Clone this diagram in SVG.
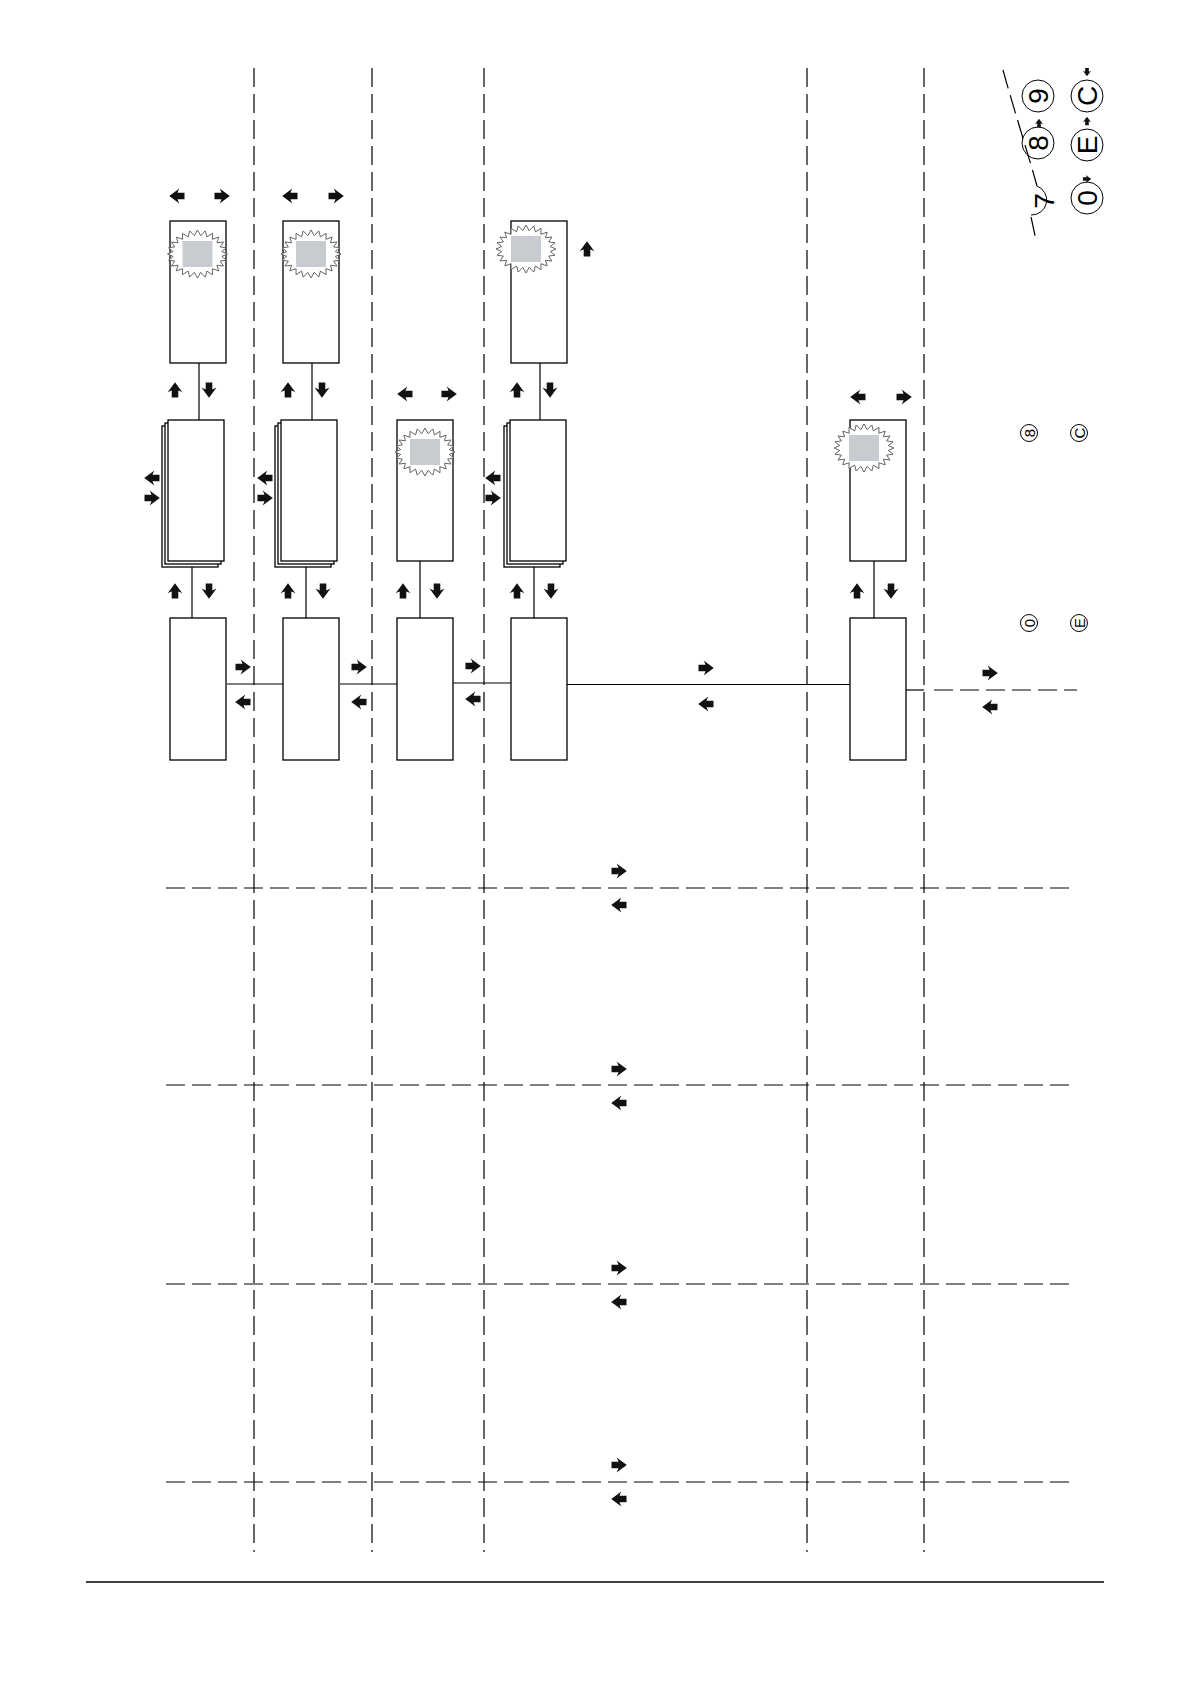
<svg xmlns="http://www.w3.org/2000/svg" xmlns:xlink="http://www.w3.org/1999/xlink" width="1190" height="1684" viewBox="0 0 1190 1684">
<style>
.box{fill:#fff;stroke:#000;stroke-width:1.3}
.con{fill:none;stroke:#000;stroke-width:1.2}
.dash{fill:none;stroke:#000;stroke-width:1.2;stroke-dasharray:19 7}
.sq{fill:#c8ccd0;stroke:none}
.burst{fill:#fff;stroke:#555;stroke-width:0.9}
.arr{fill:#111}
.key{fill:none;stroke:#000;stroke-width:1}
.kt{font-family:"Liberation Sans",Arial,sans-serif;fill:#000;text-anchor:middle;dominant-baseline:central}
</style>
<defs>
<path id="ar" class="arr" d="M-7.5,-3.3 L-0.5,-3.3 Q-1.2,-5.5 -2.4,-7.5 L7.8,0 L-2.4,7.5 Q-1.2,5.5 -0.5,3.3 L-7.5,3.3 Z"/>
<polygon id="burst" class="burst" points="30,0 24.29,2.41 29,6.2 22.64,7.08 26,12 19.44,11.26 21.2,16.9 14.92,14.68 15,20.7 9.38,17.09 7.8,23.1 3.2,18.34 0,24 -3.2,18.34 -7.8,23.1 -9.38,17.09 -15,20.7 -14.92,14.68 -21.2,16.9 -19.44,11.26 -26,12 -22.64,7.08 -29,6.2 -24.29,2.41 -30,0 -24.29,-2.41 -29,-6.2 -22.64,-7.08 -26,-12 -19.44,-11.26 -21.2,-16.9 -14.92,-14.68 -15,-20.7 -9.38,-17.09 -7.8,-23.1 -3.2,-18.34 0,-24 3.2,-18.34 7.8,-23.1 9.38,-17.09 15,-20.7 14.92,-14.68 21.2,-16.9 19.44,-11.26 26,-12 22.64,-7.08 29,-6.2 24.29,-2.41"/>
<g id="flash"><use href="#burst" xlink:href="#burst"/><rect class="sq" x="-15" y="-13" width="30" height="26"/></g>
</defs>
<rect width="1190" height="1684" fill="#fff"/>

<g id="gridlines">
<line class="dash" x1="254" y1="68" x2="254" y2="1552"/>
<line class="dash" x1="372" y1="68" x2="372" y2="1552"/>
<line class="dash" x1="484" y1="68" x2="484" y2="1552"/>
<line class="dash" x1="807" y1="68" x2="807" y2="1552"/>
<line class="dash" x1="924" y1="68" x2="924" y2="1552"/>
<line class="dash" x1="166" y1="888" x2="1074" y2="888"/>
<line class="dash" x1="166" y1="1085" x2="1074" y2="1085"/>
<line class="dash" x1="166" y1="1284" x2="1074" y2="1284"/>
<line class="dash" x1="166" y1="1482" x2="1074" y2="1482"/>
<line x1="86" y1="1582" x2="1104" y2="1582" stroke="#000" stroke-width="1.6"/>
</g>

<g id="connectors">
<line class="con" x1="199" y1="363" x2="199" y2="420"/>
<line class="con" x1="192" y1="567" x2="192" y2="619"/>
<line class="con" x1="312" y1="363" x2="312" y2="420"/>
<line class="con" x1="306" y1="567" x2="306" y2="619"/>
<line class="con" x1="420" y1="561" x2="420" y2="619"/>
<line class="con" x1="540" y1="363" x2="540" y2="420"/>
<line class="con" x1="534" y1="567" x2="534" y2="619"/>
<line class="con" x1="874" y1="561" x2="874" y2="619"/>
<line class="con" x1="227" y1="684" x2="283" y2="684"/>
<line class="con" x1="340" y1="684" x2="397" y2="684"/>
<line class="con" x1="453" y1="683" x2="511" y2="683"/>
<line class="con" x1="567" y1="684.5" x2="850" y2="684.5"/>
<line class="con" x1="906" y1="690" x2="924" y2="690"/>
<line class="dash" x1="934" y1="690" x2="1077" y2="690"/>
</g>

<g id="col1-top"><rect class="box" x="170" y="221" width="56" height="142"/><use href="#flash" xlink:href="#flash" transform="translate(197.5,254)"/></g>
<g id="col1-stack"><rect class="box" x="162" y="426" width="56" height="141"/><rect class="box" x="165" y="423" width="56" height="141"/><rect class="box" x="168" y="420" width="56" height="141"/></g>
<g id="col1-bottom"><rect class="box" x="170" y="618" width="56" height="142"/></g>

<g id="col2-top"><rect class="box" x="283" y="221" width="56" height="142"/><use href="#flash" xlink:href="#flash" transform="translate(311,254)"/></g>
<g id="col2-stack"><rect class="box" x="275" y="426" width="56" height="141"/><rect class="box" x="278" y="423" width="56" height="141"/><rect class="box" x="281" y="420" width="56" height="141"/></g>
<g id="col2-bottom"><rect class="box" x="283" y="618" width="56" height="142"/></g>

<g id="col3-mid"><rect class="box" x="397" y="420" width="56" height="141"/><use href="#flash" xlink:href="#flash" transform="translate(425,452)"/></g>
<g id="col3-bottom"><rect class="box" x="397" y="618" width="56" height="142"/></g>

<g id="col4-top"><rect class="box" x="511" y="221" width="56" height="142"/><use href="#flash" xlink:href="#flash" transform="translate(526,249)"/></g>
<g id="col4-stack"><rect class="box" x="504" y="426" width="56" height="141"/><rect class="box" x="507" y="423" width="56" height="141"/><rect class="box" x="510" y="420" width="56" height="141"/></g>
<g id="col4-bottom"><rect class="box" x="511" y="618" width="56" height="142"/></g>

<g id="col5-mid"><rect class="box" x="850" y="420" width="56" height="141"/><use href="#flash" xlink:href="#flash" transform="translate(864,448)"/></g>
<g id="col5-bottom"><rect class="box" x="850" y="618" width="56" height="142"/></g>

<g id="arrows">
<use href="#ar" xlink:href="#ar" transform="translate(177,196) rotate(180)"/>
<use href="#ar" xlink:href="#ar" transform="translate(222,196)"/>
<use href="#ar" xlink:href="#ar" transform="translate(290,196) rotate(180)"/>
<use href="#ar" xlink:href="#ar" transform="translate(336,196)"/>
<use href="#ar" xlink:href="#ar" transform="translate(405,394) rotate(180)"/>
<use href="#ar" xlink:href="#ar" transform="translate(449,394)"/>
<use href="#ar" xlink:href="#ar" transform="translate(858,397) rotate(180)"/>
<use href="#ar" xlink:href="#ar" transform="translate(904,397)"/>
<use href="#ar" xlink:href="#ar" transform="translate(587,249) rotate(-90)"/>

<use href="#ar" xlink:href="#ar" transform="translate(175,390) rotate(-90)"/>
<use href="#ar" xlink:href="#ar" transform="translate(209,390) rotate(90)"/>
<use href="#ar" xlink:href="#ar" transform="translate(288,390) rotate(-90)"/>
<use href="#ar" xlink:href="#ar" transform="translate(322,390) rotate(90)"/>
<use href="#ar" xlink:href="#ar" transform="translate(517,390) rotate(-90)"/>
<use href="#ar" xlink:href="#ar" transform="translate(550,390) rotate(90)"/>

<use href="#ar" xlink:href="#ar" transform="translate(152,478) rotate(180)"/>
<use href="#ar" xlink:href="#ar" transform="translate(152,498)"/>
<use href="#ar" xlink:href="#ar" transform="translate(265,478) rotate(180)"/>
<use href="#ar" xlink:href="#ar" transform="translate(265,498)"/>
<use href="#ar" xlink:href="#ar" transform="translate(493,478) rotate(180)"/>
<use href="#ar" xlink:href="#ar" transform="translate(493,498)"/>

<use href="#ar" xlink:href="#ar" transform="translate(175,591) rotate(-90)"/>
<use href="#ar" xlink:href="#ar" transform="translate(209,591) rotate(90)"/>
<use href="#ar" xlink:href="#ar" transform="translate(288,591) rotate(-90)"/>
<use href="#ar" xlink:href="#ar" transform="translate(323,591) rotate(90)"/>
<use href="#ar" xlink:href="#ar" transform="translate(403,591) rotate(-90)"/>
<use href="#ar" xlink:href="#ar" transform="translate(437,591) rotate(90)"/>
<use href="#ar" xlink:href="#ar" transform="translate(517,591) rotate(-90)"/>
<use href="#ar" xlink:href="#ar" transform="translate(551,591) rotate(90)"/>
<use href="#ar" xlink:href="#ar" transform="translate(857,591) rotate(-90)"/>
<use href="#ar" xlink:href="#ar" transform="translate(891,591) rotate(90)"/>

<use href="#ar" xlink:href="#ar" transform="translate(243,667)"/>
<use href="#ar" xlink:href="#ar" transform="translate(243,702) rotate(180)"/>
<use href="#ar" xlink:href="#ar" transform="translate(359,667)"/>
<use href="#ar" xlink:href="#ar" transform="translate(359,702) rotate(180)"/>
<use href="#ar" xlink:href="#ar" transform="translate(473,666)"/>
<use href="#ar" xlink:href="#ar" transform="translate(473,699) rotate(180)"/>
<use href="#ar" xlink:href="#ar" transform="translate(706,668)"/>
<use href="#ar" xlink:href="#ar" transform="translate(706,704) rotate(180)"/>
<use href="#ar" xlink:href="#ar" transform="translate(990,673)"/>
<use href="#ar" xlink:href="#ar" transform="translate(990,707) rotate(180)"/>

<use href="#ar" xlink:href="#ar" transform="translate(619,871)"/>
<use href="#ar" xlink:href="#ar" transform="translate(619,905) rotate(180)"/>
<use href="#ar" xlink:href="#ar" transform="translate(619,1069)"/>
<use href="#ar" xlink:href="#ar" transform="translate(619,1103) rotate(180)"/>
<use href="#ar" xlink:href="#ar" transform="translate(619,1268)"/>
<use href="#ar" xlink:href="#ar" transform="translate(619,1302) rotate(180)"/>
<use href="#ar" xlink:href="#ar" transform="translate(619,1465)"/>
<use href="#ar" xlink:href="#ar" transform="translate(619,1499) rotate(180)"/>
</g>

<g id="keypad">
<path class="dash" d="M1003,70 C1014,110 1027,150 1037,186" stroke-dasharray="8 5"/>
<path class="key" d="M1037,186 A15,15 0 0 1 1031,215"/>
<path class="dash" d="M1031,217 L1036,240" stroke-dasharray="8 5"/>
<text class="kt" font-size="28" transform="translate(1044,201) rotate(-90)">7</text>
<circle class="key" cx="1038" cy="96" r="16"/>
<text class="kt" font-size="28" transform="translate(1038,96) rotate(-90)">9</text>
<circle class="key" cx="1038" cy="143" r="16"/>
<text class="kt" font-size="28" transform="translate(1038,143) rotate(-90)">8</text>
<circle class="key" cx="1087" cy="96" r="16"/>
<text class="kt" font-size="28" transform="translate(1087,96) rotate(-90)">C</text>
<circle class="key" cx="1087" cy="145" r="16"/>
<text class="kt" font-size="28" transform="translate(1087,145) rotate(-90)">E</text>
<circle class="key" cx="1087" cy="198" r="16"/>
<text class="kt" font-size="28" transform="translate(1087,198) rotate(-90)">0</text>
<use href="#ar" xlink:href="#ar" transform="translate(1087,72) rotate(90) scale(0.55)"/>
<use href="#ar" xlink:href="#ar" transform="translate(1087,121) rotate(-90) scale(0.55)"/>
<use href="#ar" xlink:href="#ar" transform="translate(1087,179) scale(0.55)"/>
<use href="#ar" xlink:href="#ar" transform="translate(1039,123) rotate(-90) scale(0.55)"/>
</g>

<g id="keys-small">
<circle class="key" cx="1029" cy="433" r="8.5"/>
<text class="kt" font-size="15" transform="translate(1029,433) rotate(-90)">8</text>
<circle class="key" cx="1079" cy="433" r="8.5"/>
<text class="kt" font-size="15" transform="translate(1079,433) rotate(-90)">C</text>
<circle class="key" cx="1029" cy="623" r="8.5"/>
<text class="kt" font-size="15" transform="translate(1029,623) rotate(-90)">0</text>
<circle class="key" cx="1079" cy="623" r="8.5"/>
<text class="kt" font-size="15" transform="translate(1079,623) rotate(-90)">E</text>
</g>
</svg>
